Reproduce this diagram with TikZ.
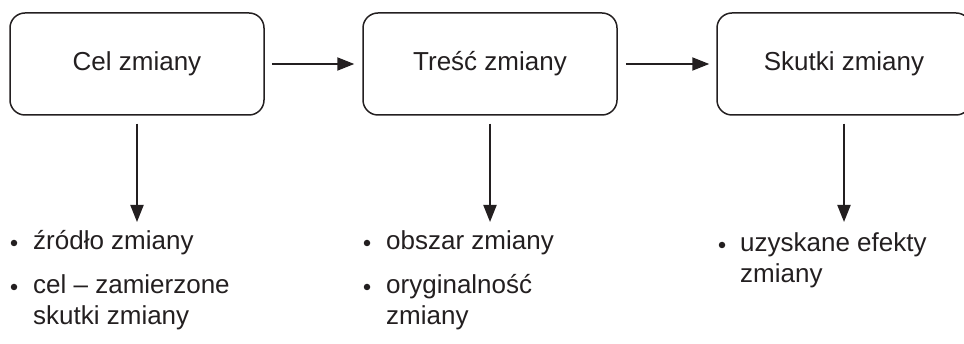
\documentclass[tikz,border=0pt]{standalone}
\usepackage{fontspec}
\setmainfont{Liberation Sans}
\usetikzlibrary{arrows.meta}
\definecolor{ink}{HTML}{231F20}
\begin{document}
\begin{tikzpicture}[x=1pt,y=-1pt,
  box/.style={draw=ink, line width=1.5pt, rounded corners=15pt, minimum width=254pt, minimum height=102pt, inner sep=0pt, font=\fontsize{26}{31}\selectfont, text=ink},
  arr/.style={draw=ink, line width=2pt, -{Triangle[length=17pt,width=13pt]}},
  txt/.style={anchor=base west, inner sep=0pt, font=\fontsize{26}{31}\selectfont, text=ink},
  dot/.style={circle, fill=ink, inner sep=0pt, minimum size=6.5pt}]
\useasboundingbox (0,0) rectangle (964,344);
\clip (0,0) rectangle (964,344);
% boxes
\node[box] (b1) at (137,64) {Cel zmiany};
\node[box] (b2) at (490,64) {Treść zmiany};
\node[box] (b3) at (844,64) {Skutki zmiany};
% horizontal arrows
\draw[arr] ([xshift=7pt]b1.east) -- ([xshift=-8pt]b2.west);
\draw[arr] ([xshift=8pt]b2.east) -- ([xshift=-7pt]b3.west);
% vertical arrows
\coordinate (e1) at (137,222);
\coordinate (e2) at (490,222);
\coordinate (e3) at (844,222);
\draw[arr] ([yshift=-8pt]b1.south) -- (e1);
\draw[arr] ([yshift=-8pt]b2.south) -- (e2);
\draw[arr] ([yshift=-8pt]b3.south) -- (e3);
% column 1
\node[dot] (d11) at (14,243) {};
\node[txt] (t11) at (33,250) {źródło zmiany};
\node[dot] (d12) at (14,287) {};
\node[txt] (t12a) at (33,294) {cel – zamierzone};
\node[txt] (t12b) at (33,325) {skutki zmiany};
% column 2
\node[dot] (d21) at (367,243) {};
\node[txt] (t21) at (386,250) {obszar zmiany};
\node[dot] (d22) at (367,287) {};
\node[txt] (t22a) at (386,294) {oryginalność};
\node[txt] (t22b) at (386,325) {zmiany};
% column 3
\node[dot] (d31) at (722,245) {};
\node[txt] (t31a) at (740,252) {uzyskane efekty};
\node[txt] (t31b) at (740,283) {zmiany};
\end{tikzpicture}
\end{document}
